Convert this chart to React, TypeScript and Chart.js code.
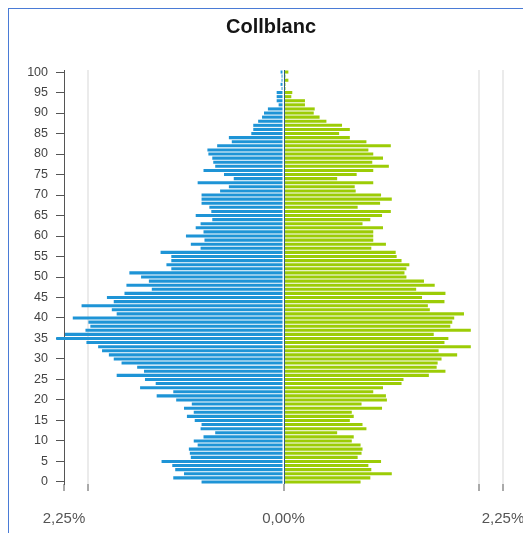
import { useEffect, useRef } from 'react';
import { Chart, registerables } from 'chart.js';

Chart.register(...registerables);

const chartTitle = 'Collblanc';

const ages = [
  '0', '1', '2', '3', '4', '5', '6', '7', '8', '9',
  '10', '11', '12', '13', '14', '15', '16', '17', '18', '19',
  '20', '21', '22', '23', '24', '25', '26', '27', '28', '29',
  '30', '31', '32', '33', '34', '35', '36', '37', '38', '39',
  '40', '41', '42', '43', '44', '45', '46', '47', '48', '49',
  '50', '51', '52', '53', '54', '55', '56', '57', '58', '59',
  '60', '61', '62', '63', '64', '65', '66', '67', '68', '69',
  '70', '71', '72', '73', '74', '75', '76', '77', '78', '79',
  '80', '81', '82', '83', '84', '85', '86', '87', '88', '89',
  '90', '91', '92', '93', '94', '95', '96', '97', '98', '99',
  '100',
];

// % of population, men (drawn to the left)
const maleShare = [
  0.84, 1.13, 1.02, 1.11, 1.14, 1.25, 0.95, 0.96, 0.97, 0.88,
  0.92, 0.82, 0.70, 0.85, 0.84, 0.91, 0.99, 0.92, 1.02, 0.94,
  1.10, 1.30, 1.13, 1.47, 1.31, 1.42, 1.71, 1.43, 1.50, 1.66,
  1.74, 1.79, 1.86, 1.90, 2.02, 2.33, 2.24, 2.03, 1.98, 2.00,
  2.16, 1.71, 1.76, 2.07, 1.74, 1.81, 1.63, 1.35, 1.61, 1.38,
  1.46, 1.58, 1.15, 1.20, 1.15, 1.15, 1.26, 0.85, 0.95, 0.81,
  1.00, 0.82, 0.90, 0.85, 0.73, 0.90, 0.74, 0.76, 0.84, 0.84,
  0.84, 0.65, 0.56, 0.88, 0.51, 0.61, 0.82, 0.70, 0.72, 0.73,
  0.77, 0.78, 0.68, 0.53, 0.56, 0.33, 0.31, 0.31, 0.26, 0.22,
  0.20, 0.16, 0.05, 0.07, 0.07, 0.07, 0.02, 0.03, 0.02, 0.02,
  0.03,
];

// % of population, women (drawn to the right)
const femaleShare = [
  0.79, 0.89, 1.11, 0.90, 0.87, 1.00, 0.76, 0.80, 0.81, 0.79,
  0.70, 0.72, 0.55, 0.85, 0.81, 0.68, 0.72, 0.70, 1.01, 0.80,
  1.06, 1.05, 0.92, 1.02, 1.21, 1.23, 1.49, 1.66, 1.57, 1.58,
  1.62, 1.78, 1.59, 1.92, 1.65, 1.69, 1.54, 1.92, 1.71, 1.73,
  1.75, 1.85, 1.50, 1.48, 1.65, 1.42, 1.66, 1.36, 1.55, 1.44,
  1.26, 1.24, 1.26, 1.29, 1.21, 1.16, 1.15, 0.90, 1.05, 0.92,
  0.92, 0.92, 1.02, 0.81, 0.89, 1.01, 1.10, 0.76, 0.99, 1.11,
  1.00, 0.74, 0.73, 0.92, 0.55, 0.75, 0.92, 1.08, 0.91, 1.02,
  0.92, 0.87, 1.10, 0.85, 0.68, 0.57, 0.68, 0.60, 0.44, 0.37,
  0.31, 0.32, 0.22, 0.22, 0.08, 0.09, 0.02, 0.02, 0.05, 0.02,
  0.05,
];

const xTickValues = [-2.25, -2, 0, 2, 2.25];
const xTickLabels = ['2,25%', '', '0,00%', '', '2,25%'];

const BLUE = '#1e94d6';
const GREEN = '#9ccc06';
const FONT = 'Arial, "Liberation Sans", Helvetica, sans-serif';

const centerLine = {
  id: 'centerLine',
  afterLayout(chart: any) {
    // centre the title over the framed panel rather than the padded layout box
    if (chart.titleBlock) {
      chart.titleBlock.left = 0;
      chart.titleBlock.right = 524;
    }
  },
  afterDatasetsDraw(chart: any) {
    const { ctx, chartArea, scales } = chart;
    const x = Math.round(scales.x.getPixelForValue(0)) + 0.5;
    ctx.save();
    ctx.strokeStyle = '#2c5f80';
    ctx.lineWidth = 1;
    ctx.beginPath();
    ctx.moveTo(x, chartArea.top);
    ctx.lineTo(x, chartArea.bottom);
    ctx.stroke();
    ctx.restore();
  },
};

export default function App() {
  const ref = useRef<HTMLCanvasElement>(null);

  useEffect(() => {
    if (!ref.current) return;
    Chart.defaults.font.family = FONT;
    const chart = new Chart(ref.current, {
      type: 'bar',
      data: {
        labels: ages,
        datasets: [
          {
            label: 'Homes',
            data: maleShare.map((v) => -v),
            backgroundColor: BLUE,
            barPercentage: 0.75,
            categoryPercentage: 1,
            clip: false,
          } as any,
          {
            label: 'Dones',
            data: femaleShare,
            backgroundColor: GREEN,
            barPercentage: 0.75,
            categoryPercentage: 1,
            clip: false,
          } as any,
        ],
      },
      plugins: [centerLine],
      options: {
        indexAxis: 'y',
        responsive: false,
        animation: false,
        layout: { padding: { left: 0, right: 24, top: 0, bottom: 0 } },
        plugins: {
          legend: { display: false },
          tooltip: { enabled: false },
          title: {
            display: true,
            text: chartTitle,
            color: '#151515',
            font: { family: FONT, size: 20, weight: 'bold' },
            padding: { top: 6, bottom: 31 },
          },
        },
        scales: {
          x: {
            type: 'linear',
            min: -2.25,
            max: 2.25,
            stacked: true,
            afterBuildTicks: (s: any) => {
              s.ticks = xTickValues.map((v) => ({ value: v }));
            },
            afterFit: (s: any) => {
              s.height = 49;
              s.paddingLeft = 0;
              s.paddingRight = 0;
            },
            ticks: {
              autoSkip: false,
              maxRotation: 0,
              padding: 19,
              color: '#555',
              font: { family: FONT, size: 15 },
              callback: (_v: any, i: number) => xTickLabels[i],
            },
            grid: {
              drawTicks: true,
              tickLength: 7,
              tickWidth: 1,
              tickColor: '#555',
              lineWidth: 2,
              color: (ctx: any) => {
                const v = ctx.tick ? ctx.tick.value : null;
                if (v === 2 || v === -2 || v === 2.25) return '#ebebeb';
                return 'rgba(0,0,0,0)';
              },
            },
            border: { display: false },
          },
          y: {
            type: 'category',
            reverse: true,
            stacked: true,
            afterFit: (s: any) => {
              s.width = 55;
            },
            ticks: {
              autoSkip: false,
              padding: 8,
              color: '#444',
              font: { family: FONT, size: 12.5 },
              callback: (_v: any, i: number) => (i % 5 === 0 ? ages[i] : ''),
            },
            grid: {
              offset: false,
              drawOnChartArea: false,
              drawTicks: true,
              tickLength: 8,
              color: (ctx: any) => (ctx.index % 5 === 0 ? '#555' : 'rgba(0,0,0,0)'),
            },
            border: { display: true, color: '#555', width: 1 },
          },
        },
      } as any,
    });
    return () => chart.destroy();
  }, []);

  return (
    <div
      style={{
        width: 518,
        height: 524,
        borderLeft: '1px solid #4a7bd6',
        borderTop: '1px solid #4a7bd6',
        borderRight: '1px solid #d8d8d8',
        background: '#fff',
      }}
    >
      <canvas ref={ref} width={518} height={524} style={{ display: 'block' }} />
    </div>
  );
}
